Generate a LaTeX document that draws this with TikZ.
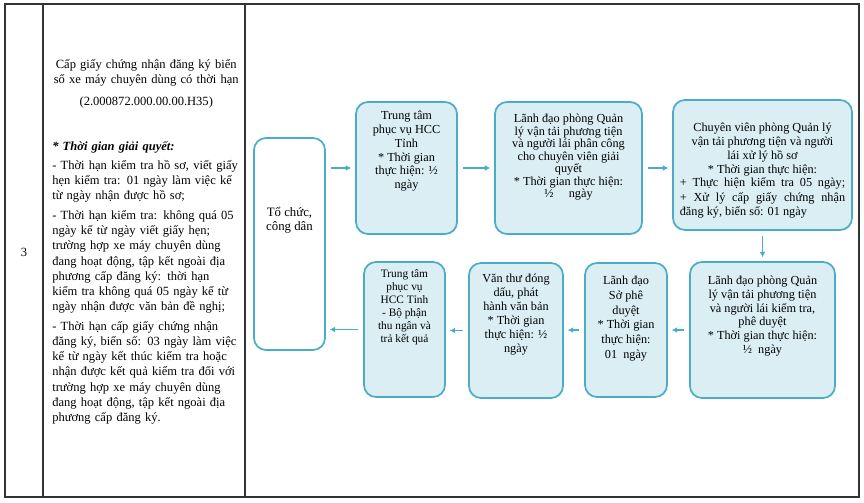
\documentclass[tikz,border=0pt]{standalone}
\usepackage{fontspec}
\setmainfont{Liberation Serif}
\usetikzlibrary{arrows.meta, positioning, fit}

\definecolor{stagefill}{RGB}{218,238,243}
\definecolor{stageline}{RGB}{75,172,198}

\begin{document}
\begin{tikzpicture}[x=0.75pt,y=-0.75pt,
  stage/.style={draw=stageline, line width=1.3pt, fill=stagefill, rounded corners=9pt, inner sep=0pt},
  stagetext/.style={inner sep=0pt, align=center, font=\fontsize{9.2}{10.3}\selectfont},
  flow/.style={draw=stageline, line width=1.1pt, -{Latex[length=4pt,width=4.5pt]}, shorten <=4pt, shorten >=3pt}]
\useasboundingbox (0,0) rectangle (864,503);

% table cell
\draw[black!80, line width=1pt] (5,4) rectangle (859,497);
\draw[black!80, line width=1pt] (43,4) -- (43,497) (245,4) -- (245,497);
\node[font=\fontsize{9.4}{11}\selectfont] (nr) at (24,252) {3};

\node[anchor=north west, text width=141pt, inner sep=0pt, font=\fontsize{9.4}{11.45}\selectfont] (proc) at (52,59) {%
  \setlength{\parskip}{3pt}\hyphenpenalty=10000
  {\centering Cấp giấy chứng nhận đăng ký biển\\ số xe máy chuyên dùng có thời hạn\\[5pt] (2.000872.000.00.00.H35)\par}
  \vspace{19pt}
  \textbf{\textit{* Thời gian giải quyết:}}\par
  - Thời hạn kiểm tra hồ sơ, viết giấy\linebreak hẹn kiểm tra: 01 ngày làm việc kể\linebreak từ ngày nhận được hồ sơ;\par
  - Thời hạn kiểm tra: không quá 05\linebreak ngày kể từ ngày viết giấy hẹn;\linebreak trường hợp xe máy chuyên dùng\linebreak đang hoạt động, tập kết ngoài địa\linebreak phương cấp đăng ký: thời hạn\linebreak kiểm tra không quá 05 ngày kể từ\linebreak ngày nhận được văn bản đề nghị;\par
  - Thời hạn cấp giấy chứng nhận\linebreak đăng ký, biển số: 03 ngày làm việc\linebreak kể từ ngày kết thúc kiểm tra hoặc\linebreak nhận được kết quả kiểm tra đối với\linebreak trường hợp xe máy chuyên dùng\linebreak đang hoạt động, tập kết ngoài địa\linebreak phương cấp đăng ký.\par};

% flow boxes
\node[stage, fill=white, fit={(254,138) (325,350)}] (tcd) {};
\node[stage, fit={(356,102) (457,234)}] (hcc) {};
\node[stage, fit={(495,102) (642,234)}] (ldp) {};
\node[stage, fit={(673,100) (852,230)}] (cvp) {};
\node[stage, fit={(690,262) (835,398)}] (ldk) {};
\node[stage, fit={(585,263) (667,397)}] (lds) {};
\node[stage, fit={(469,263) (563,398)}] (vtp) {};
\node[stage, fit={(364,262) (445,397)}] (tkq) {};

\node[stagetext, font=\fontsize{9.6}{11}\selectfont, below=52pt of tcd.north] (tcd-t) {Tổ chức,\\ công dân};
\node[stagetext, below=7.5pt of hcc.north] (hcc-t) {Trung tâm\\ phục vụ HCC\\ Tỉnh\\ * Thời gian\\ thực hiện: ½\\ ngày};
\node[stagetext, font=\fontsize{9.2}{9.4}\selectfont, below=9.5pt of ldp.north] (ldp-t) {Lãnh đạo phòng Quản\\ lý vận tải phương tiện\\ và người lái phân công\\ cho chuyên viên giải\\ quyết\\ * Thời gian thực hiện:\\ ½ \quad ngày};
\node[stagetext, below=18pt of cvp.north] (cvp-t) {Chuyên viên phòng Quản lý\\ vận tải phương tiện và người\\ lái xử lý hồ sơ\\ * Thời gian thực hiện:\\
  \parbox[t]{124pt}{\fontsize{9.2}{10.6}\selectfont + Thực hiện kiểm tra 05 ngày;\linebreak + Xử lý cấp giấy chứng nhận\linebreak đăng ký, biển số: 01 ngày}};
\node[stagetext, below=11pt of ldk.north] (ldk-t) {Lãnh đạo phòng Quản\\ lý vận tải phương tiện\\ và người lái kiểm tra,\\ phê duyệt\\ * Thời gian thực hiện:\\ ½ \ ngày};
\node[stagetext, font=\fontsize{9.2}{11}\selectfont, below=10.5pt of lds.north] (lds-t) {Lãnh đạo\\ Sở phê\\ duyệt\\ * Thời gian\\ thực hiện:\\ 01 \ ngày};
\node[stagetext, font=\fontsize{9.2}{10.5}\selectfont, below=9pt of vtp.north] (vtp-t) {Văn thư đóng\\ dấu, phát\\ hành văn bản\\ * Thời gian\\ thực hiện: ½\\ ngày};
\node[stagetext, font=\fontsize{8.5}{9.7}\selectfont, below=6.5pt of tkq.north] (tkq-t) {Trung tâm\\ phục vụ\\ HCC Tỉnh\\ - Bộ phận\\ thu ngân và\\ trả kết quả};

% arrows
\draw[flow] (tcd.east |- hcc.west) -- (hcc.west);
\draw[flow] (hcc) -- (ldp);
\draw[flow] (ldp.east) -- (ldp.east -| cvp.west);
\draw[flow] (cvp) -- (ldk);
\draw[flow] (ldk) -- (lds);
\draw[flow] (lds.west) -- (lds.west -| vtp.east);
\draw[flow] (vtp.west) -- (vtp.west -| tkq.east);
\draw[flow] (tkq.west) -- (tkq.west -| tcd.east);
\end{tikzpicture}
\end{document}
